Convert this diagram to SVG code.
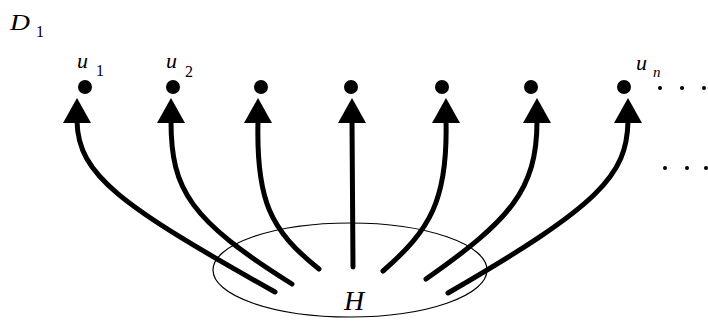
<svg xmlns="http://www.w3.org/2000/svg" xmlns:xlink="http://www.w3.org/1999/xlink" width="708" height="323" viewBox="0 0 708 323">
<style>
.bg{fill:#fff}
.dot{fill:#000}
.sdot{fill:#000}
.shaft{fill:none;stroke:#000;stroke-width:5;stroke-linecap:round}
.ell{fill:none;stroke:#000;stroke-width:1.2}
.it{font-family:"Liberation Serif",serif;font-style:italic;fill:#000}
.sub{font-family:"Liberation Serif",serif;fill:#000}
</style>
<defs>
<polygon id="head" points="0,0 -14,25 14,25" fill="#000"/>
</defs>
<rect class="bg" width="708" height="323"/>
<g id="label-D1">
<text class="it" x="0" y="0" font-size="24" transform="translate(10 30) scale(1.15 1)">D</text>
<text class="sub" x="36" y="37" font-size="16">1</text>
</g>
<g id="connectors">
<path class="shaft" d="M77 121 C78 175 120 205 275 292"/>
<path class="shaft" d="M171 121 C171 190 190 220 292 284"/>
<path class="shaft" d="M258 121 C256 200 270 230 319 269"/>
<path class="shaft" d="M352 121 L353 267"/>
<path class="shaft" d="M446 121 C448 200 430 230 383 271"/>
<path class="shaft" d="M537 121 C537 190 510 220 426 279"/>
<path class="shaft" d="M628 121 C627 175 600 205 448 293"/>
<use xlink:href="#head" x="77" y="98"/>
<use xlink:href="#head" x="171" y="98"/>
<use xlink:href="#head" x="258" y="98"/>
<use xlink:href="#head" x="352" y="98"/>
<use xlink:href="#head" x="446" y="98"/>
<use xlink:href="#head" x="537" y="98"/>
<use xlink:href="#head" x="628" y="98"/>
</g>
<g id="node-u1"><circle class="dot" cx="85" cy="87" r="7"/><text class="it" x="77" y="68" font-size="22">u</text><text class="sub" x="96" y="76" font-size="16">1</text></g>
<g id="node-u2"><circle class="dot" cx="173" cy="87" r="7"/><text class="it" x="166" y="68" font-size="22">u</text><text class="sub" x="185" y="77" font-size="16">2</text></g>
<g id="node-u3"><circle class="dot" cx="261" cy="87" r="7"/></g>
<g id="node-u4"><circle class="dot" cx="351" cy="87" r="7"/></g>
<g id="node-u5"><circle class="dot" cx="442" cy="87" r="7"/></g>
<g id="node-u6"><circle class="dot" cx="531" cy="87" r="7"/></g>
<g id="node-un"><circle class="dot" cx="624" cy="87" r="7"/><text class="it" x="636" y="70" font-size="22">u</text><text class="it" x="653" y="77" font-size="15">n</text></g>
<g id="ellipsis-top"><circle class="sdot" cx="660" cy="88" r="2"/><circle class="sdot" cx="682" cy="88" r="2"/><circle class="sdot" cx="704" cy="88" r="2"/></g>
<g id="ellipsis-bottom"><circle class="sdot" cx="665" cy="168" r="2"/><circle class="sdot" cx="687" cy="168" r="2"/><circle class="sdot" cx="706" cy="168" r="2"/></g>
<g id="node-H"><ellipse class="ell" cx="350" cy="270" rx="137" ry="47"/><text class="it" x="354" y="310" font-size="28" text-anchor="middle">H</text></g>
</svg>
